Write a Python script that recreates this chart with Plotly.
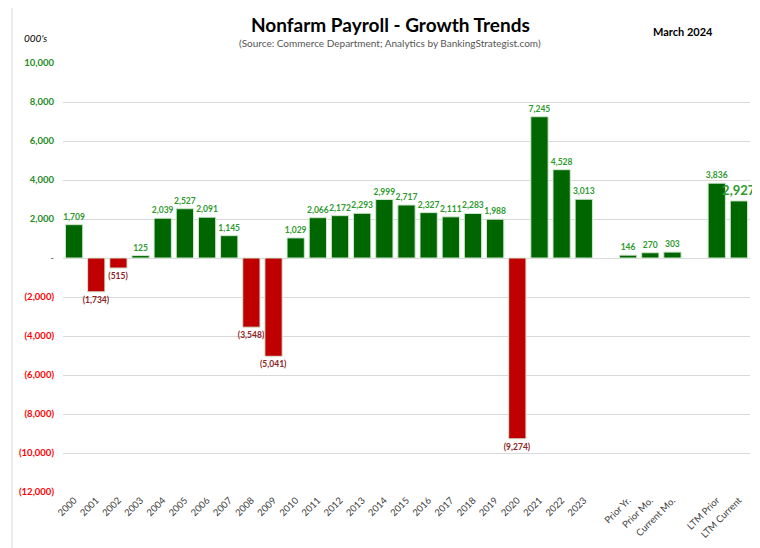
import plotly.graph_objects as go

categories = [str(y) for y in range(2000, 2024)] + [" ", "Prior Yr.", "Prior Mo.", "Current Mo.", "  ", "LTM Prior", "LTM Current"]
values = [1709, -1734, -515, 125, 2039, 2527, 2091, 1145, -3548, -5041,
          1029, 2066, 2172, 2293, 2999, 2717, 2327, 2111, 2283, 1988,
          -9274, 7245, 4528, 3013,
          None, 146, 270, 303,
          None, 3836, 2927]
ytick_vals = [10000, 8000, 6000, 4000, 2000, 0, -2000, -4000, -6000, -8000, -10000, -12000]

GREEN = "#006600"
RED = "#C00000"
POS_LBL = "#2E9A2E"
NEG_LBL = "#8B2323"

def fmt(v):
    if v is None:
        return ""
    return f"{v:,}" if v >= 0 else f"({-v:,})"

bar_colors = [GREEN if (v is not None and v >= 0) else RED for v in values]
text = [fmt(v) for v in values]
text_colors = [POS_LBL if (v is not None and v >= 0) else NEG_LBL for v in values]
text_sizes = [8.5] * len(values)
text_sizes[-1] = 13

def ytick_text(v):
    if v > 0:
        return f"<span style='color:#1E8C1E'><b>{v:,}</b></span>"
    if v < 0:
        return f"<span style='color:#FF0000'><b>({-v:,})</b></span>"
    return "<span style='color:#555555'>-</span>"

# page body has an 8px margin; figure is sized to fit the 760x548 window
PLOT_L, PLOT_T, PLOT_W, PLOT_H = 63, 63, 687, 429

def px(X):
    return (X - PLOT_L) / PLOT_W

def py(Y):
    return 1 + (PLOT_T - Y) / PLOT_H

fig = go.Figure()
fig.add_trace(go.Bar(
    x=categories, y=values,
    marker=dict(color=bar_colors, line=dict(color="#CFE8CF", width=1)),
    text=text, textposition="outside", constraintext="none",
    textfont=dict(color=text_colors, size=text_sizes, family="Lato", weight="bold"),
    cliponaxis=False,
    hoverinfo="x+y",
))

fig.update_layout(
    width=752, height=540,
    margin=dict(l=55, r=10, t=55, b=56),
    paper_bgcolor="white", plot_bgcolor="white",
    font=dict(family="Lato", color="#404040"),
    showlegend=False,
    bargap=0.22,
    xaxis=dict(
        type="category", categoryorder="array", categoryarray=categories,
        tickangle=-45, tickfont=dict(size=9.5, color="#404040"),
        showgrid=False, showline=False, ticks="", automargin=False,
    ),
    yaxis=dict(
        range=[-12000, 10000],
        tickvals=ytick_vals, ticktext=[ytick_text(v) for v in ytick_vals],
        tickfont=dict(size=9.5), ticklabelstandoff=8,
        showgrid=True, gridcolor="#D9D9D9", gridwidth=1,
        zeroline=True, zerolinecolor="#D9D9D9", zerolinewidth=1,
        showline=False, ticks="", ticklen=0, automargin=False,
    ),
    annotations=[
        dict(text="<b>Nonfarm Payroll - Growth Trends</b>", xref="paper", yref="paper",
             x=px(390), y=py(24), showarrow=False,
             font=dict(size=19, color="#000000", family="Lato"), xanchor="center", yanchor="middle"),
        dict(text="(Source: Commerce Department; Analytics by BankingStrategist.com)", xref="paper", yref="paper",
             x=px(390), y=py(43), showarrow=False,
             font=dict(size=10, color="#555555", family="Lato"), xanchor="center", yanchor="middle"),
        dict(text="<i>000's</i>", xref="paper", yref="paper",
             x=px(22), y=py(38), showarrow=False,
             font=dict(size=10, color="#000000", family="Lato"), xanchor="left", yanchor="middle"),
        dict(text="<b>March 2024</b>", xref="paper", yref="paper",
             x=px(683), y=py(32), showarrow=False,
             font=dict(size=11, color="#000000", family="Lato"), xanchor="center", yanchor="middle"),
    ],
    shapes=[
        dict(type="rect", xref="paper", yref="paper",
             x0=px(12), x1=px(757), y0=py(560), y1=py(3),
             line=dict(color="#D9D9D9", width=1), fillcolor="rgba(0,0,0,0)", layer="below"),
    ],
)

fig.write_html("out.html")
